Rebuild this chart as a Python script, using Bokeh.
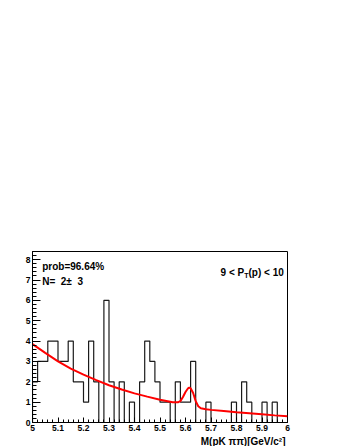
import numpy as np
from bokeh.plotting import figure
from bokeh.models import Range1d, FixedTicker, Label, Title
from bokeh.embed import file_html
from bokeh.resources import INLINE

# ---------------- data ----------------
x_lo, x_hi = 5.0, 6.0
n_bins = 50
counts = [2, 3, 3, 4, 4, 3, 3, 4, 2, 2,
          1, 4, 2, 0, 6, 2, 0, 2, 0, 1,
          0, 2, 4, 3, 2, 1, 1, 0, 2, 1,
          1, 3, 0, 0, 1, 0, 0, 0, 0, 1,
          0, 2, 1, 0, 0, 1, 0, 1, 0, 0]

fit_x = [5.00, 5.05, 5.10, 5.15, 5.20, 5.25, 5.30, 5.35, 5.40, 5.45, 5.50,
         5.55, 5.57, 5.58, 5.59, 5.60, 5.61, 5.615, 5.62, 5.63, 5.64, 5.65,
         5.66, 5.68, 5.70, 5.75, 5.80, 5.85, 5.90, 5.95, 6.00]
fit_y = [3.85, 3.42, 3.00, 2.65, 2.35, 2.08, 1.83, 1.62, 1.43, 1.27, 1.12,
         1.00, 0.99, 1.05, 1.25, 1.50, 1.68, 1.72, 1.68, 1.45, 1.05, 0.80,
         0.70, 0.65, 0.62, 0.56, 0.50, 0.45, 0.40, 0.35, 0.31]

x_ticks = [5.0, 5.1, 5.2, 5.3, 5.4, 5.5, 5.6, 5.7, 5.8, 5.9, 6.0]
x_tick_labels = ["5", "5.1", "5.2", "5.3", "5.4", "5.5", "5.6", "5.7", "5.8", "5.9", "6"]
y_ticks = [0, 1, 2, 3, 4, 5, 6, 7, 8]
y_max = 8.4

prob_text = "prob=96.64%"
n_text = "N=\u00a0\u00a02\u00b1\u00a0\u00a03"
pt_left, pt_sub, pt_right = "9 < P", "T", "(p) < 10"
x_title = "M(pK \u03c0\u03c0)[GeV/c\u00b2]"

FONT = "Liberation Sans"

# ---------------- figure ----------------
p = figure(width=345, height=446, output_backend="svg", toolbar_location=None,
           x_range=Range1d(x_lo, x_hi), y_range=Range1d(0, y_max),
           min_border_left=32, min_border_right=58, min_border_top=251,
           min_border_bottom=0)
p.background_fill_color = "white"
p.border_fill_color = "white"
p.outline_line_color = "black"
p.outline_line_width = 1
p.grid.visible = False

# histogram outline
edges = np.linspace(x_lo, x_hi, n_bins + 1)
hx, hy = [edges[0]], [0]
for i, c in enumerate(counts):
    hx += [edges[i], edges[i + 1]]
    hy += [c, c]
hx.append(edges[-1])
hy.append(0)
p.line(hx, hy, line_color="#1a1a1a", line_width=1.2)

# fit curve
p.line(fit_x, fit_y, line_color="#ff0000", line_width=2)

# axes
xa = p.xaxis[0]
xa.ticker = FixedTicker(ticks=x_ticks,
                        minor_ticks=list(np.round(np.arange(5.0, 6.0001, 0.02), 3)))
xa.major_label_overrides = {t: l for t, l in zip(x_ticks, x_tick_labels)}
xa.major_tick_in = 5
xa.major_tick_out = 0
xa.minor_tick_in = 3
xa.minor_tick_out = 0
xa.major_label_standoff = 2
xa.axis_line_color = "black"

ya = p.yaxis[0]
ya.ticker = FixedTicker(ticks=y_ticks,
                        minor_ticks=list(np.round(np.arange(0, 8.4001, 0.2), 3)))
ya.major_tick_in = 8
ya.major_tick_out = 0
ya.minor_tick_in = 4
ya.minor_tick_out = 0
ya.major_label_standoff = 2
ya.axis_line_color = "black"

for ax in (xa, ya):
    ax.major_label_text_font = FONT
    ax.major_label_text_font_style = "bold"
    ax.major_label_text_font_size = "8.5px"
    ax.major_label_text_color = "black"
    ax.major_tick_line_color = "black"
    ax.minor_tick_line_color = "black"
    ax.axis_label = None

# x-axis title, right-aligned under the frame
p.add_layout(Title(text=x_title, align="right", offset=2, standoff=0,
                   text_font=FONT, text_font_style="bold",
                   text_font_size="10px", text_color="black"), "below")

def lab(text, x, y, size, align="left", xoff=0, yoff=0, style="bold"):
    p.add_layout(Label(x=x, y=y, text=text, x_offset=xoff, y_offset=yoff,
                       text_font=FONT, text_font_style=style,
                       text_font_size=size, text_align=align,
                       text_baseline="alphabetic", text_color="black"))

lab(prob_text, 5.038, 7.68, "10px")
lab(n_text, 5.038, 6.95, "10px")

lab(pt_right, 5.9855, 7.36, "10px", align="right")
lab(pt_sub, 5.9855, 7.36, "7px", align="right", xoff=-35.3, yoff=-2.5)
lab(pt_left, 5.9855, 7.36, "10px", align="right", xoff=-39.6)

html = file_html(p, INLINE)
html = html.replace("</head>", "<style>html,body{overflow:hidden;}</style></head>", 1)
open("out.html", "w").write(html)
